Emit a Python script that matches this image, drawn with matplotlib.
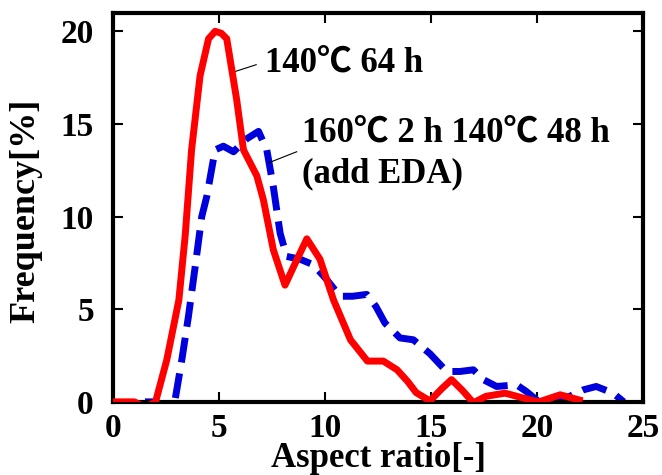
import matplotlib.pyplot as plt

plt.rcParams['font.family'] = ['Liberation Serif', 'Noto Sans CJK JP', 'DejaVu Sans']
plt.rcParams['font.weight'] = 'bold'

# 140C 64 h
red_x = [0, 1.0, 1.5, 2.0, 2.53, 3.1, 3.4, 3.7, 4.1, 4.5, 4.81, 5.1, 5.36, 5.83,
         6.15, 6.78, 7.09, 7.56, 8.11, 8.6, 9.14, 9.76, 10.4, 11.2, 12.0, 12.75,
         13.4, 13.9, 14.3, 14.95, 15.5, 15.97, 16.5, 17.0, 17.6, 18.5, 19.7, 20.1,
         21.1, 22.0]
red_y = [0, 0, -0.3, 0, 2.27, 5.5, 9.0, 13.6, 17.6, 19.6, 20.0, 19.9, 19.6, 16.3,
         13.6, 12.2, 10.9, 8.2, 6.3, 7.5, 8.8, 7.7, 5.5, 3.35, 2.2, 2.2,
         1.73, 1.1, 0.5, 0.05, 0.7, 1.2, 0.6, -0.05, 0.3, 0.47, 0.1, 0.0,
         0.38, 0.1]

# 160C 2 h 140C 48 h (add EDA)
blue_x = [1.5, 2.0, 2.5, 2.92, 3.24, 3.55, 3.87, 4.18, 4.42, 4.81, 5.2, 5.68, 6.3,
          6.86, 7.25, 7.56, 7.88, 8.19, 8.82, 9.45, 10.08, 10.7, 11.3, 11.97, 12.4,
          12.83, 13.54, 14.17, 14.95, 15.74, 16.37, 17.0, 17.47, 18.1, 19.04, 19.5,
          20.1, 21.0, 22.2, 22.8, 23.6, 24.1]
blue_y = [0, 0, -0.3, 0.1, 2.27, 4.6, 7.3, 10.0, 11.1, 13.6, 13.8, 13.5, 14.2,
          14.6, 13.6, 11.6, 9.1, 7.85, 7.7, 7.4, 6.6, 5.7, 5.7, 5.8, 5.15,
          4.25, 3.45, 3.35, 2.6, 1.64, 1.64, 1.73, 1.2, 0.83, 0.92, 0.56,
          0.0, 0.0, 0.65, 0.83, 0.47, 0.0]

xticks = [0, 5, 10, 15, 20, 25]
yticks = [0, 5, 10, 15, 20]

fig = plt.figure(figsize=(6.62, 4.75), dpi=100)
ax = fig.add_axes([0.171, 0.154, 0.80, 0.819])

ax.plot(red_x, red_y, color='#ff0000', lw=5, solid_joinstyle='round', zorder=3)
ax.plot(blue_x, blue_y, color='#0000dd', lw=5, dashes=(3.6, 1.6), zorder=2)

ax.set_xlim(0, 25)
ax.set_ylim(0, 21)
ax.set_xticks(xticks)
ax.set_yticks(yticks)
ax.tick_params(direction='in', length=7, width=1.5, top=True, right=True,
               labelsize=24)
ax.tick_params(axis='x', pad=8)
ax.tick_params(axis='y', pad=14)
for s in ax.spines.values():
    s.set_linewidth(3)

ax.set_xlabel('Aspect ratio[-]', fontsize=25, fontweight='bold')
ax.set_ylabel('Frequency[%]', fontsize=26, fontweight='bold')
ax.xaxis.set_label_coords(0.5, -0.102)
ax.yaxis.set_label_coords(-0.134, 0.49)

ax.text(7.17, 17.84, '140℃ 64 h', fontsize=25, fontweight='bold', va='baseline')
ax.plot([5.67, 6.75], [17.8, 18.2], color='black', lw=0.8)
ax.text(8.92, 14.05, '160℃ 2 h 140℃ 48 h', fontsize=25, fontweight='bold',
        va='baseline')
ax.text(8.92, 11.84, '(add EDA)', fontsize=25, fontweight='bold', va='baseline')
ax.plot([7.33, 8.66], [12.9, 13.5], color='black', lw=0.8)

fig.savefig('out.png', dpi=100)
